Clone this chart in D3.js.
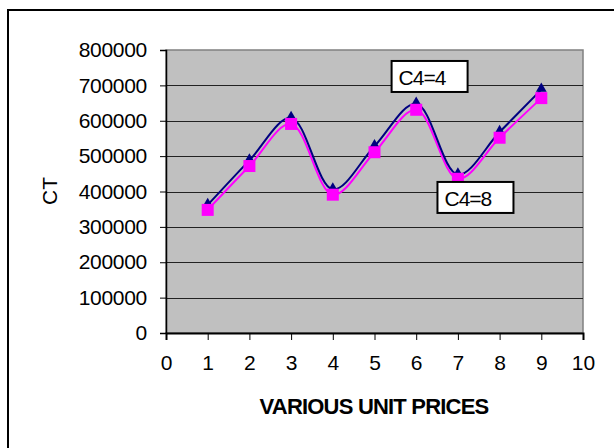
<!DOCTYPE html>
<html>
<head>
<meta charset="utf-8">
<script src="https://cdn.jsdelivr.net/npm/d3@7"></script>
<style>
  body { margin: 0; background: #fff; }
  text { font-family: "Liberation Sans", Arial, sans-serif; }
</style>
</head>
<body>
<div id="chart"></div>
<script>
// data
var prices = [1, 2, 3, 4, 5, 6, 7, 8, 9];
var ctC4eq4 = [362000, 488000, 608000, 406000, 528000, 648000, 448000, 568000, 688000];
var ctC4eq8 = [348000, 472000, 591000, 391000, 511000, 631000, 436000, 552000, 664000];
var yTicks = [0, 100000, 200000, 300000, 400000, 500000, 600000, 700000, 800000];
var xTicks = [0, 1, 2, 3, 4, 5, 6, 7, 8, 9, 10];
var labels = [
  { text: "C4=4", x: 5.41, y: 769000 },
  { text: "C4=8", x: 6.51, y: 427000 }
];

var w = 614, h = 448;
var m = { top: 50, right: 31, bottom: 115, left: 166 };
var pw = w - m.left - m.right, ph = h - m.top - m.bottom;

var svg = d3.select("#chart")
            .append("svg")
            .attr("width", w)
            .attr("height", h);

// outer chart border
svg.append("rect")
   .attr("x", 8).attr("y", 10)
   .attr("width", w + 20).attr("height", h + 20)
   .attr("fill", "#fff")
   .attr("stroke", "#000")
   .attr("stroke-width", 2);

var xScale = d3.scaleLinear().domain([0, 10]).range([0, pw]);
var yScale = d3.scaleLinear().domain([0, 800000]).range([ph, 0]);

var g = svg.append("g")
           .attr("transform", "translate(" + m.left + "," + m.top + ")");

// plot area
g.append("rect")
 .attr("width", pw).attr("height", ph)
 .attr("fill", "#c0c0c0")
 .attr("stroke", "#808080")
 .attr("stroke-width", 1.5);

// gridlines
g.selectAll(".grid")
 .data(yTicks.slice(1, -1))
 .enter()
 .append("line")
 .attr("x1", 0).attr("x2", pw)
 .attr("y1", (d) => Math.round(yScale(d)) + 0.5)
 .attr("y2", (d) => Math.round(yScale(d)) + 0.5)
 .attr("stroke", "#222")
 .attr("stroke-width", 1);

// axes
var yAxis = d3.axisLeft(yScale)
              .tickValues(yTicks)
              .tickSize(6)
              .tickPadding(13)
              .tickFormat(d3.format("d"));

var yg = g.append("g").call(yAxis);
yg.select(".domain").attr("stroke", "#000").attr("stroke-width", 1.5);
yg.selectAll("text")
  .attr("font-size", 21)
  .attr("font-family", "Liberation Sans, Arial, sans-serif")
  .attr("letter-spacing", -0.3)
  .attr("fill", "#000");

var xAxis = d3.axisBottom(xScale)
              .tickValues(xTicks)
              .tickSize(7)
              .tickPadding(15);

var xg = g.append("g")
          .attr("transform", "translate(0," + ph + ")")
          .call(xAxis);
xg.select(".domain").attr("stroke", "#000").attr("stroke-width", 2);
xg.selectAll("text")
  .attr("font-size", 21)
  .attr("font-family", "Liberation Sans, Arial, sans-serif")
  .attr("fill", "#000");

// lines
var line = d3.line()
             .x((d, i) => xScale(prices[i]))
             .y((d) => yScale(d))
             .curve(d3.curveCatmullRom.alpha(0.5));

g.append("path")
 .datum(ctC4eq8)
 .attr("d", line)
 .attr("fill", "none")
 .attr("stroke", "#ff00ff")
 .attr("stroke-width", 2);

g.append("path")
 .datum(ctC4eq4)
 .attr("d", line)
 .attr("fill", "none")
 .attr("stroke", "#000080")
 .attr("stroke-width", 2);

// markers
g.selectAll(".tri")
 .data(ctC4eq4)
 .enter()
 .append("path")
 .attr("d", d3.symbol().type(d3.symbolTriangle).size(50))
 .attr("transform", (d, i) => "translate(" + xScale(prices[i]) + "," + (yScale(d) - 1) + ")")
 .attr("fill", "#000080");

g.selectAll(".sq")
 .data(ctC4eq8)
 .enter()
 .append("rect")
 .attr("x", (d, i) => xScale(prices[i]) - 6)
 .attr("y", (d) => yScale(d) - 6)
 .attr("width", 12).attr("height", 12)
 .attr("fill", "#ff00ff");

// series labels
labels.forEach(function(l) {
  var lg = g.append("g")
            .attr("transform", "translate(" + xScale(l.x) + "," + yScale(l.y) + ")");
  lg.append("rect")
    .attr("width", 76).attr("height", 31)
    .attr("fill", "#fff")
    .attr("stroke", "#000")
    .attr("stroke-width", 2);
  lg.append("text")
    .attr("x", 7).attr("y", 24)
    .attr("font-size", 21)
    .attr("letter-spacing", -1)
    .text(l.text);
});

// axis titles
svg.append("text")
   .attr("transform", "translate(57,191) rotate(-90)")
   .attr("text-anchor", "middle")
   .attr("font-size", 21)
   .text("CT");

svg.append("text")
   .attr("x", 374).attr("y", 414)
   .attr("text-anchor", "middle")
   .attr("font-size", 22)
   .attr("font-weight", "bold")
   .attr("letter-spacing", -0.8)
   .text("VARIOUS UNIT PRICES");
</script>
</body>
</html>
